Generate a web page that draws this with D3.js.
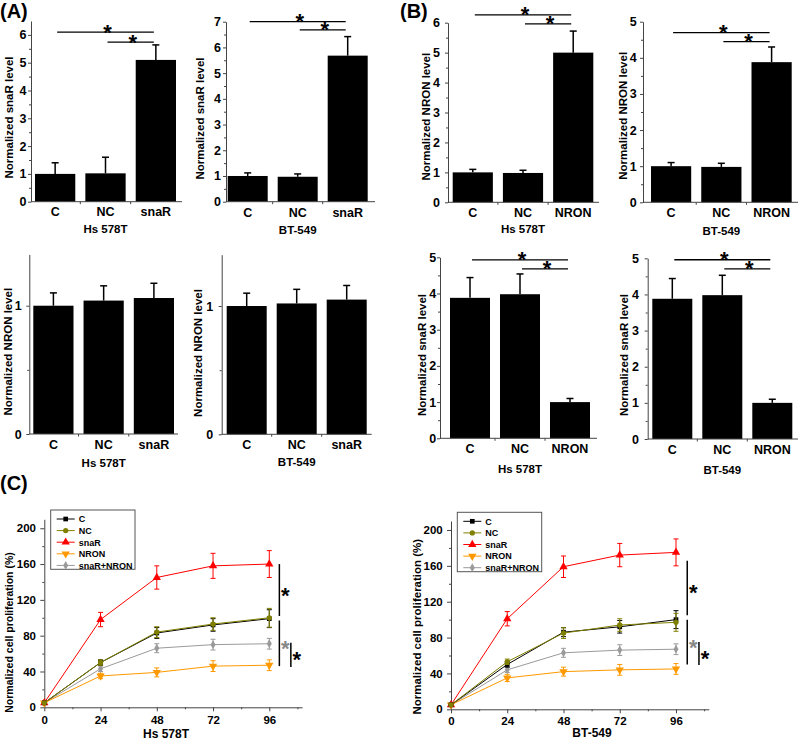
<!DOCTYPE html>
<html><head><meta charset="utf-8">
<script src="https://cdn.jsdelivr.net/npm/d3@7"></script>
<style>
body{margin:0;background:#fff}
svg{display:block}
text{font-family:"Liberation Sans",Arial,sans-serif;font-weight:bold;fill:#000}
</style>
</head><body>
<svg id="fig" width="800" height="742"></svg>
<script>
// ---------------- DATA ----------------
const catsSnaR = ["C", "NC", "snaR"];
const catsNRON = ["C", "NC", "NRON"];

const hsSnaRLevel = [1.00, 1.02, 5.10];
const hsSnaRErr   = [0.40, 0.58, 0.54];
const btSnaRLevel = [1.00, 0.97, 5.68];
const btSnaRErr   = [0.12, 0.11, 0.74];

const hsNRONLevel = [1.00, 0.98, 5.00];
const hsNRONErr   = [0.10, 0.09, 0.72];
const btNRONLevel = [1.00, 0.98, 3.88];
const btNRONErr   = [0.10, 0.10, 0.42];

const hsNRONafterSnaR    = [1.00, 1.04, 1.06];
const hsNRONafterSnaRErr = [0.10, 0.115, 0.115];
const btNRONafterSnaR    = [1.00, 1.02, 1.05];
const btNRONafterSnaRErr = [0.10, 0.11, 0.11];

const hsSnaRafterNRON    = [3.88, 3.98, 1.00];
const hsSnaRafterNRONErr = [0.56, 0.56, 0.10];
const btSnaRafterNRON    = [3.88, 3.98, 1.00];
const btSnaRafterNRONErr = [0.56, 0.55, 0.10];

// significance brackets: [fromIndex, toIndex, yValue]
const sigA1 = [[0, 2, 6.10], [1, 2, 5.74]];
const sigA2 = [[0, 2, 7.00], [1, 2, 6.68]];
const sigB1 = [[0, 2, 6.26], [1, 2, 5.96]];
const sigB2 = [[0, 2, 4.70], [1, 2, 4.45]];
const sigB3 = [[0, 2, 4.93], [1, 2, 4.68]];
const sigB4 = [[0, 2, 4.96], [1, 2, 4.71]];

const groupHs = "Hs 578T";
const groupBT = "BT-549";

// proliferation
const hours = [0, 24, 48, 72, 96];
const seriesNames = ["C", "NC", "snaR", "NRON", "snaR+NRON"];
const hsProlif = [
  [5, 50, 83, 92, 99],
  [5, 50, 84, 93, 100],
  [5, 98, 145, 158, 160],
  [5, 35, 39, 46, 47],
  [5, 43, 66, 70, 71]
];
const hsProlifErr = [
  [0, 3, 6, 7, 10],
  [0, 3, 6, 7, 10.5],
  [0, 8, 13, 14, 15],
  [0, 3, 5, 6, 6],
  [0, 3, 5, 6, 6]
];
const btProlif = [
  [5, 50, 86, 92, 100],
  [5, 53, 85, 94, 97],
  [5, 101, 159, 172, 175],
  [5, 35, 42, 44, 45],
  [5, 44, 63, 66, 67]
];
const btProlifErr = [
  [0, 3, 5, 7, 10],
  [0, 3, 6, 7, 10],
  [0, 8, 12, 13, 15],
  [0, 4, 5, 6, 6],
  [0, 3, 5, 6, 6]
];
// vertical significance brackets: [xValue, yFrom, yTo, starColorIndex]
const hsBrackets = [[100.3, 160, 102, 0], [100.3, 97, 46, 1], [105.2, 72, 45, 0]];
const btBrackets = [[100.8, 165.7, 105, 0], [100.8, 100, 50, 1], [105.8, 75, 49.4, 0]];
const prolifYTicks = [0, 40, 80, 120, 160, 200];
const prolifYMinor = [20, 60, 100, 140, 180];
const prolifXTicks = [0, 24, 48, 72, 96];
const prolifXMinor = [12, 36, 60, 84, 108];

// ---------------- STYLE ----------------
const seriesColors = ["#000000", "#808000", "#ff0000", "#ff9900", "#9a9a9a"];
const seriesSymbols = [d3.symbolSquare, d3.symbolCircle, d3.symbolTriangle, d3.symbolTriangle, d3.symbolDiamond];
const seriesSymSize = [22, 22, 30, 30, 22];
const seriesRotate = [0, 0, 0, 180, 0];
const axisColor = "#444";
const starColors = ["#000", "#888"];

const svg = d3.select("#fig");

function star(g, x, yBase, color, size) {
  g.append("text").attr("x", x).attr("y", yBase).attr("text-anchor", "middle")
    .style("font-size", (size || 22) + "px").style("fill", color || "#000").text("*");
}

// ---------------- BAR PANELS ----------------
function barPanel(p) {
  const g = svg.append("g");
  const x = d3.scaleBand().domain(p.cats).range([p.barL, p.barR]).paddingInner(0.2).paddingOuter(0);
  const y = d3.scaleLinear().domain([0, p.ymax]).range([p.y0, p.yTop]);

  // bars
  g.selectAll("rect.bar").data(p.cats).join("rect").attr("class", "bar")
    .attr("x", d => x(d)).attr("width", x.bandwidth())
    .attr("y", (d, i) => y(p.vals[i])).attr("height", (d, i) => y(0) - y(p.vals[i]))
    .attr("fill", "#000");

  // error bars (upper only)
  p.cats.forEach((c, i) => {
    const cx = x(c) + x.bandwidth() / 2;
    const top = y(p.vals[i] + p.errs[i]);
    g.append("line").attr("x1", cx).attr("x2", cx).attr("y1", y(p.vals[i])).attr("y2", top)
      .attr("stroke", "#000").attr("stroke-width", 1.5);
    g.append("line").attr("x1", cx - 3.5).attr("x2", cx + 3.5).attr("y1", top).attr("y2", top)
      .attr("stroke", "#000").attr("stroke-width", 1.5);
  });

  // y axis
  const ya = g.append("g").attr("transform", `translate(${p.axisL},0)`)
    .call(d3.axisLeft(y).tickValues(d3.range(0, Math.floor(p.ymax) + 1)).tickSize(3).tickSizeOuter(0).tickPadding(p.tickPad).tickFormat(d3.format("d")));
  ya.select(".domain").attr("stroke", axisColor);
  ya.selectAll(".tick line").attr("stroke", axisColor);
  ya.selectAll("text").style("font-size", "12.5px");
  const ym = g.append("g").attr("transform", `translate(${p.axisL},0)`)
    .call(d3.axisLeft(y).tickValues(d3.range(0.5, p.ymax, 1)).tickSize(2).tickFormat(""));
  ym.select(".domain").remove();
  ym.selectAll(".tick line").attr("stroke", axisColor);

  // x axis line
  g.append("line").attr("x1", p.axisL).attr("x2", p.axisR).attr("y1", y(0)).attr("y2", y(0))
    .attr("stroke", axisColor);
  // boundary ticks
  const step = x.step();
  [1, 2].forEach(i => {
    const bx = x(p.cats[i]) - step * 0.1;
    g.append("line").attr("x1", bx).attr("x2", bx).attr("y1", y(0)).attr("y2", y(0) + 2.5).attr("stroke", axisColor);
  });
  const xa = g.append("g").attr("transform", `translate(0,${p.y0})`)
    .call(d3.axisBottom(x).tickSize(0));
  xa.select(".domain").remove();
  xa.selectAll("text").attr("y", p.tickBase - p.y0).attr("dy", 0)
    .style("font-size", "12.5px");

  // group label
  g.append("text").attr("x", (p.barL + p.barR) / 2).attr("y", p.groupBase).attr("text-anchor", "middle")
    .style("font-size", "11.5px").text(p.group);

  // y label
  g.append("text").attr("transform", `translate(${p.ylabX},${p.ylabY}) rotate(-90)`)
    .attr("text-anchor", "middle").style("font-size", "11.5px").text(p.ylabel);

  // significance
  (p.sig || []).forEach(s => {
    const x1 = x(p.cats[s[0]]) + x.bandwidth() / 2 + 2;
    const x2 = x(p.cats[s[1]]) + x.bandwidth() / 2 - 2;
    const ly = y(s[2]);
    g.append("line").attr("x1", x1).attr("x2", x2).attr("y1", ly).attr("y2", ly).attr("stroke", "#000").attr("stroke-width", 1.3);
    star(g, (x1 + x2) / 2 + 2, ly + 7.5, "#000", 22);
  });
}

const barPanels = [
  {cats: catsSnaR, vals: hsSnaRLevel, errs: hsSnaRErr, sig: sigA1, ylabel: "Normalized snaR level", group: groupHs, tickPad: 1.5,
   axisL: 31, axisR: 182, y0: 201.7, yTop: 21.0, ymax: 6.5, barL: 35, barR: 176, ylabX: 13.3, ylabY: 117.5, tickBase: 216, groupBase: 233.3},
  {cats: catsSnaR, vals: btSnaRLevel, errs: btSnaRErr, sig: sigA2, ylabel: "Normalized snaR level", group: groupBT, tickPad: 2,
   axisL: 226, axisR: 375, y0: 201.7, yTop: 21.7, ymax: 7, barL: 227.7, barR: 367.7, ylabX: 204.3, ylabY: 118.5, tickBase: 216.7, groupBase: 234.3},
  {cats: catsNRON, vals: hsNRONLevel, errs: hsNRONErr, sig: sigB1, ylabel: "Normalized NRON level", group: groupHs, tickPad: 5,
   axisL: 448, axisR: 599, y0: 202.3, yTop: 22.7, ymax: 6, barL: 452.7, barR: 593.3, ylabX: 430, ylabY: 116.7, tickBase: 217.3, groupBase: 233.3},
  {cats: catsNRON, vals: btNRONLevel, errs: btNRONErr, sig: sigB2, ylabel: "Normalized NRON level", group: groupBT, tickPad: 3.3,
   axisL: 643, axisR: 798, y0: 202.3, yTop: 21.7, ymax: 5, barL: 651, barR: 791.7, ylabX: 627.3, ylabY: 115.8, tickBase: 216.7, groupBase: 235},
  {cats: catsSnaR, vals: hsNRONafterSnaR, errs: hsNRONafterSnaRErr, sig: [], ylabel: "Normalized NRON level", group: groupHs, tickPad: 4.6,
   axisL: 29.3, axisR: 178, y0: 434, yTop: 254.4, ymax: 1.4, barL: 33.3, barR: 174, ylabX: 11.7, ylabY: 351.7, tickBase: 449.3, groupBase: 466.7},
  {cats: catsSnaR, vals: btNRONafterSnaR, errs: btNRONafterSnaRErr, sig: [], ylabel: "Normalized NRON level", group: groupBT, tickPad: 5.4,
   axisL: 221.7, axisR: 371.7, y0: 434.3, yTop: 254.7, ymax: 1.4, barL: 226.7, barR: 366.7, ylabX: 202.3, ylabY: 353, tickBase: 449.3, groupBase: 466},
  {cats: catsNRON, vals: hsSnaRafterNRON, errs: hsSnaRafterNRONErr, sig: sigB3, ylabel: "Normalized snaR level", group: groupHs, tickPad: 0.8,
   axisL: 440, axisR: 597, y0: 438.3, yTop: 257.3, ymax: 5, barL: 450, barR: 590, ylabX: 425.5, ylabY: 355, tickBase: 453.3, groupBase: 473.3},
  {cats: catsNRON, vals: btSnaRafterNRON, errs: btSnaRafterNRONErr, sig: sigB4, ylabel: "Normalized snaR level", group: groupBT, tickPad: 5.7,
   axisL: 647.7, axisR: 798, y0: 439, yTop: 258.3, ymax: 5, barL: 652.3, barR: 792.3, ylabX: 628.3, ylabY: 355, tickBase: 454, groupBase: 474}
];
barPanels.forEach(barPanel);

// ---------------- LINE PANELS ----------------
function linePanel(p) {
  const g = svg.append("g");
  const x = d3.scaleLinear().domain([0, 110]).range([p.xL, p.xR]);
  const y = d3.scaleLinear().domain([0, 210]).range([p.y0, p.yTop]);

  const ya = g.append("g").attr("transform", `translate(${p.xL},0)`)
    .call(d3.axisLeft(y).tickValues(prolifYTicks).tickSize(4).tickSizeOuter(0).tickPadding(4.3));
  ya.select(".domain").attr("stroke", axisColor);
  ya.selectAll(".tick line").attr("stroke", axisColor);
  ya.selectAll("text").style("font-size", "11.5px");
  const ym = g.append("g").attr("transform", `translate(${p.xL},0)`)
    .call(d3.axisLeft(y).tickValues(prolifYMinor).tickSize(2).tickFormat(""));
  ym.select(".domain").remove();
  ym.selectAll(".tick line").attr("stroke", axisColor);

  const xa = g.append("g").attr("transform", `translate(0,${p.y0})`)
    .call(d3.axisBottom(x).tickValues(prolifXTicks).tickSize(4).tickSizeOuter(0));
  xa.select(".domain").attr("stroke", axisColor);
  xa.selectAll(".tick line").attr("stroke", axisColor);
  xa.selectAll("text").attr("y", p.tickBase - p.y0).attr("dy", 0).style("font-size", "11.5px");
  const xm = g.append("g").attr("transform", `translate(0,${p.y0})`)
    .call(d3.axisBottom(x).tickValues(prolifXMinor).tickSize(2).tickFormat(""));
  xm.select(".domain").remove();
  xm.selectAll(".tick line").attr("stroke", axisColor);

  g.append("text").attr("x", p.groupX).attr("y", p.groupBase).attr("text-anchor", "middle")
    .style("font-size", "12px").text(p.group);
  g.append("text").attr("transform", `translate(${p.ylabX},${p.ylabY}) rotate(-90)`)
    .attr("text-anchor", "middle").style("font-size", p.ylabSize + "px").text("Normalized cell proliferation (%)");

  const line = d3.line().x((d, i) => x(hours[i])).y(d => y(d));
  const order = [4, 3, 2, 0, 1];
  order.forEach(s => {
    const col = seriesColors[s];
    g.append("path").attr("d", line(p.vals[s])).attr("fill", "none").attr("stroke", col).attr("stroke-width", 1);
    p.vals[s].forEach((v, i) => {
      const e = p.errs[s][i];
      if (e > 0) {
        const cx = x(hours[i]);
        g.append("line").attr("x1", cx).attr("x2", cx).attr("y1", y(v - e)).attr("y2", y(v + e)).attr("stroke", col).attr("stroke-width", 1);
        [v - e, v + e].forEach(w => g.append("line").attr("x1", cx - 2.5).attr("x2", cx + 2.5).attr("y1", y(w)).attr("y2", y(w)).attr("stroke", col).attr("stroke-width", 1));
      }
    });
    g.selectAll(null).data(p.vals[s]).join("path")
      .attr("d", d3.symbol().type(seriesSymbols[s]).size(seriesSymSize[s]))
      .attr("transform", (d, i) => `translate(${x(hours[i])},${y(d)}) rotate(${seriesRotate[s]})`)
      .attr("fill", col);
  });

  // brackets
  p.brackets.forEach((b, k) => {
    const bx = x(b[0]);
    g.append("line").attr("x1", bx).attr("x2", bx).attr("y1", y(b[1])).attr("y2", y(b[2])).attr("stroke", "#000").attr("stroke-width", 1.5);
    const cy = y((b[1] + b[2]) / 2);
    star(g, bx + 6, cy + 12.5, starColors[b[3]], 22);
  });

  // legend
  const lg = g.append("g");
  lg.append("rect").attr("x", p.legX).attr("y", p.legY).attr("width", p.legW).attr("height", p.legH)
    .attr("fill", "#fff").attr("stroke", "#555").attr("stroke-width", 1);
  seriesNames.forEach((n, s) => {
    const ly = p.legY + 9 + s * 11.6;
    lg.append("line").attr("x1", p.legX + 6).attr("x2", p.legX + 24).attr("y1", ly).attr("y2", ly).attr("stroke", seriesColors[s]).attr("stroke-width", 1);
    lg.append("path").attr("d", d3.symbol().type(seriesSymbols[s]).size(seriesSymSize[s]))
      .attr("transform", `translate(${p.legX + 15},${ly}) rotate(${seriesRotate[s]})`).attr("fill", seriesColors[s]);
    lg.append("text").attr("x", p.legX + 28).attr("y", ly + 3.3).style("font-size", "9px").text(n);
  });
}

const linePanels = [
  {vals: hsProlif, errs: hsProlifErr, brackets: hsBrackets, group: groupHs,
   xL: 44.3, xR: 302.1, y0: 707.3, yTop: 519.3, tickBase: 724, groupX: 166, groupBase: 738.3,
   ylabX: 13.3, ylabY: 632.5, ylabSize: 10.5, legX: 50.7, legY: 510, legW: 84.3, legH: 59.3},
  {vals: btProlif, errs: btProlifErr, brackets: btBrackets, group: groupBT,
   xL: 451, xR: 708.8, y0: 709.3, yTop: 521.0, tickBase: 725, groupX: 592, groupBase: 737.3,
   ylabX: 420.7, ylabY: 626.7, ylabSize: 11.5, legX: 457.3, legY: 512.3, legW: 84.4, legH: 59.4}
];
linePanels.forEach(linePanel);

// panel letters
[["(A)", 0, 18], ["(B)", 400, 18], ["(C)", 0, 490]].forEach(l => {
  svg.append("text").attr("x", l[1]).attr("y", l[2]).style("font-size", "20px").text(l[0]);
});
</script>
</body></html>
